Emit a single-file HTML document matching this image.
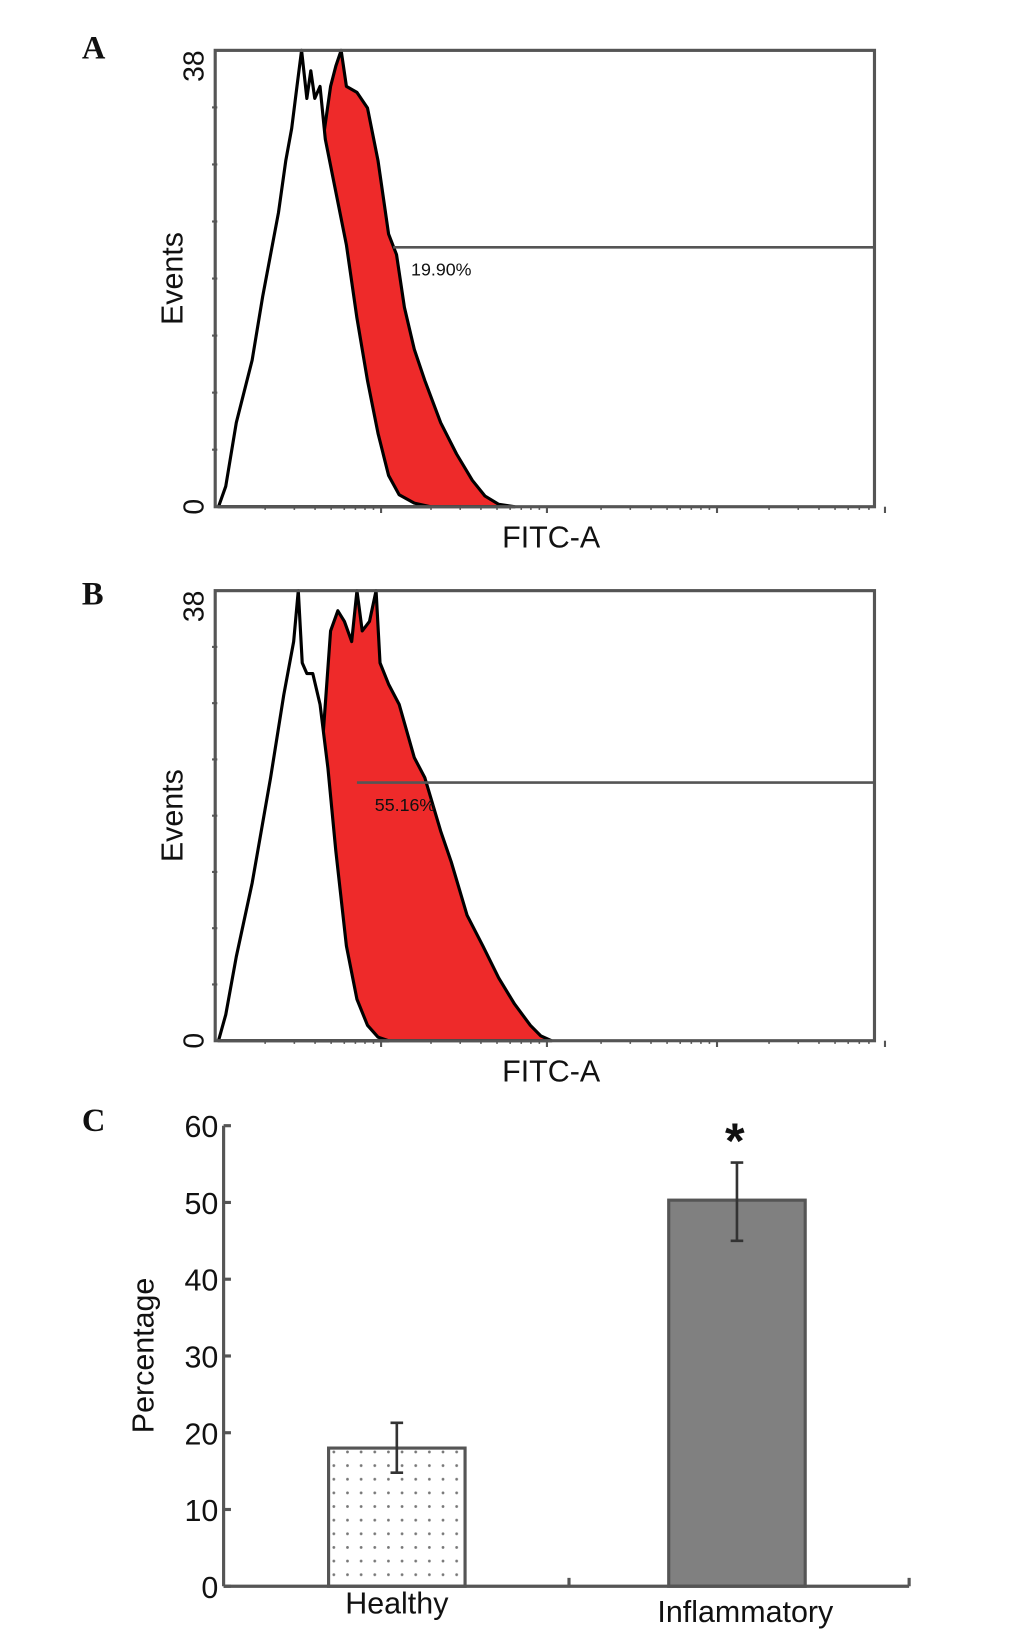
<!DOCTYPE html>
<html><head><meta charset="utf-8"><style>
html,body{margin:0;padding:0;background:#fff}
svg{display:block}
text{font-family:"Liberation Sans",sans-serif;fill:#111}
.pl{font-family:"Liberation Serif",serif;font-weight:bold;font-size:31px}
</style></head><body>
<svg id="fig" width="1033" height="1645" viewBox="0 0 984 1568" preserveAspectRatio="none" xmlns="http://www.w3.org/2000/svg">
<defs><pattern id="dots" width="13" height="13" patternUnits="userSpaceOnUse"><circle cx="6" cy="6" r="1.3" fill="#777"/></pattern></defs>
<text class="pl" x="78" y="56">A</text>
<text class="pl" x="78" y="576">B</text>
<text class="pl" x="78" y="1078">C</text>
<g id="pa"></g>
<g id="pb"></g>
<g id="pc"></g>
</svg>
<script>
// Panel A data (channel 0-1000, counts 0-38)
const aUnX=[5,16,32,56,72,84,96,107,116,124,131,139,145,151,159,167,183,199,215,231,247,263,279,302,326];
const aUnY=[0,1.7,7,12.2,17.5,21,24.5,28.8,31.5,35,38,34,36.3,34,35,30.6,26.2,21.8,15.7,10.5,6.1,2.6,1,0.3,0];
const aStX=[72,135,159,175,183,191,199,215,231,247,263,275,287,302,318,342,366,390,409,430,454];
const aStY=[0,17.5,28.8,35,36.7,38,35,34.5,33.2,28.8,22.7,21,16.6,13.1,10.5,7,4.4,2.2,0.9,0.2,0];
const aGate=[270,21.6]; const aPct="19.90%";
// Panel B data
const bUnX=[5,16,32,56,84,104,119,126,132,139,148,159,171,183,199,215,231,247,263];
const bUnY=[0,2.2,7.1,13.3,22.2,29.2,33.7,38,31.9,31,31,28.4,23,16,8,3.5,1.3,0.3,0];
const bStX=[151,159,175,186,196,207,215,223,234,244,250,263,279,302,318,342,358,382,406,430,454,478,494,510];
const bStY=[0,22.2,34.6,36.3,35.4,33.7,38,34.6,35.4,38,31.9,30.1,28.4,23.9,22.2,17.7,15.1,10.6,8,5.3,3.1,1.3,0.4,0];
const bGate=[215,21.8]; const bPct="55.16%";
// Panel C data
const cats=["Healthy","Inflammatory"];
const vals=[18,50.3];
const errLo=[14.8,45];
const errHi=[21.3,55.2];
const yTicks=[0,10,20,30,40,50,60];

const NS="http://www.w3.org/2000/svg";
function mk(p,t,a,txt){const e=document.createElementNS(NS,t);for(const k in a)e.setAttribute(k,a[k]);if(txt!==undefined)e.textContent=txt;p.appendChild(e);return e;}

function hist(gid,top,bot,unX,unY,stX,stY,gate,pct){
  const g=document.getElementById(gid);
  const L=205,R=833;
  const sx=c=>L+c/1000*(R-L), sy=v=>bot-v/38*(bot-top);
  const path=(X,Y)=>"M"+sx(X[0])+","+bot+" "+X.map((x,i)=>"L"+sx(x)+","+sy(Y[i])).join(" ")+" L"+sx(X[X.length-1])+","+bot+"Z";
  const st=mk(g,"path",{d:path(stX,stY),fill:"#ee2a2a",stroke:"#000","stroke-width":3,"stroke-linejoin":"round"});
  
  
  const un=mk(g,"path",{d:path(unX,unY),fill:"#fff",stroke:"#000","stroke-width":3,"stroke-linejoin":"round"});
  
  
  const fr=mk(g,"rect",{x:L,y:top,width:R-L,height:bot-top,fill:"none",stroke:"#555","stroke-width":3});
  
  
  for(let i=1;i<8;i++)mk(g,"line",{x1:L-3,x2:L+2,y1:sy(38*i/8),y2:sy(38*i/8),stroke:"#555","stroke-width":2});
  [0,158,320,480].forEach(d=>{
    mk(g,"line",{x1:L+d+158,x2:L+d+158,y1:bot,y2:bot+6,stroke:"#555","stroke-width":2});
    for(let k=2;k<10;k++){const x=L+d+Math.log10(k)*158; if(x<R) mk(g,"line",{x1:x,x2:x,y1:bot,y2:bot+3,stroke:"#555","stroke-width":1.5});}
  });
  const gl=mk(g,"line",{x1:sx(gate[0]),x2:R,y1:sy(gate[1]),y2:sy(gate[1]),stroke:"#555","stroke-width":2.5});
  
  
  const gt=mk(g,"text",{x:sx(gate[0])+17,y:sy(gate[1])+27,"font-size":17},pct);
  
  
  const t38=mk(g,"text",{transform:`translate(194,${top}) rotate(-90)`,"text-anchor":"end","font-size":27},"38");
  
  
  const t0=mk(g,"text",{transform:`translate(194,${bot}) rotate(-90)`,"text-anchor":"middle","font-size":27},"0");
  
  
  const yt=mk(g,"text",{transform:`translate(174,${(top+bot)/2}) rotate(-90)`,"text-anchor":"middle","font-size":29},"Events");
  
  
  const xt=mk(g,"text",{x:525,y:bot+39,"text-anchor":"middle","font-size":29},"FITC-A");
  
  
}
hist("pa",48,483,aUnX,aUnY,aStX,aStY,aGate,aPct);
hist("pb",563,992,bUnX,bUnY,bStX,bStY,bGate,bPct);

(function(){
  const g=document.getElementById("pc");
  const X0=213,X1=866,Y0=1512,Y1=1073;
  const sy=v=>Y0-v/60*(Y0-Y1);
  const centers=[378,702], bw=130;
  vals.forEach((v,i)=>{
    const r=mk(g,"rect",{x:centers[i]-bw/2,y:sy(v),width:bw,height:Y0-sy(v),fill:i==0?"url(#dots)":"#808080",stroke:"#555","stroke-width":3});
    
    
    const e=mk(g,"path",{d:`M${centers[i]},${sy(errLo[i])}V${sy(errHi[i])}M${centers[i]-6},${sy(errLo[i])}h12M${centers[i]-6},${sy(errHi[i])}h12`,stroke:"#333","stroke-width":2.5,fill:"none"});
    
    
    const l=mk(g,"text",{x:centers[i]+(i?8:0),y:i?1546:1538,"text-anchor":"middle","font-size":29},cats[i]);
    
    
  });
  mk(g,"line",{x1:X0,x2:X0,y1:Y1,y2:Y0,stroke:"#555","stroke-width":3});
  mk(g,"line",{x1:X0,x2:X1,y1:Y0,y2:Y0,stroke:"#555","stroke-width":3});
  mk(g,"line",{x1:542,x2:542,y1:Y0-8,y2:Y0,stroke:"#555","stroke-width":3});
  mk(g,"line",{x1:X1,x2:X1,y1:Y0-8,y2:Y0,stroke:"#555","stroke-width":3});
  yTicks.forEach(t=>{
    mk(g,"line",{x1:X0,x2:X0+7,y1:sy(t),y2:sy(t),stroke:"#555","stroke-width":3});
    const tl=mk(g,"text",{x:X0-5,y:sy(t)+11,"text-anchor":"end","font-size":29},String(t));
    
    
  });
  const yt=mk(g,"text",{transform:`translate(146,1292) rotate(-90)`,"text-anchor":"middle","font-size":29},"Percentage");
  
  
  const s=mk(g,"text",{x:700,y:1104,"text-anchor":"middle","font-size":48,"font-weight":"bold"},"*");
  
  
})();
</script>
</body></html>
